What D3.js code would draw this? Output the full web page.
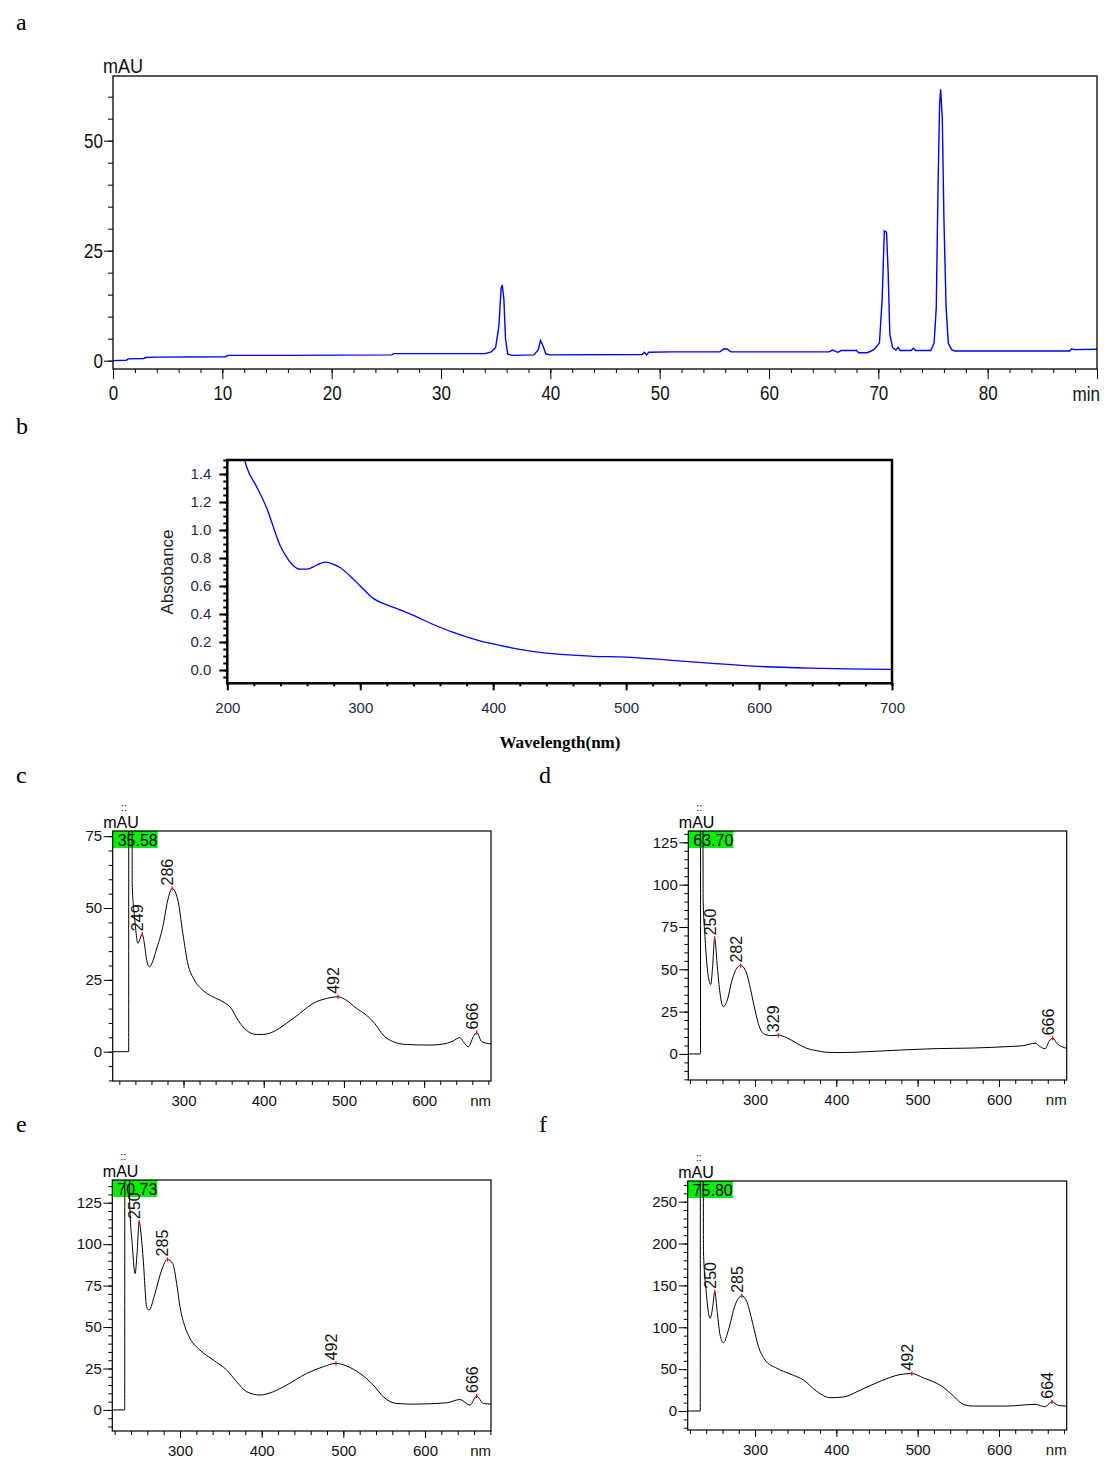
<!DOCTYPE html>
<html><head><meta charset="utf-8">
<script src="https://cdn.jsdelivr.net/npm/d3@7"></script>
<style>body{margin:0;background:#fff}</style>
</head><body><svg id="fig" width="1108" height="1465"></svg>
<script>
// ---------- DATA ----------
// a: HPLC chromatogram (time in min, signal in mAU)
const chromTime = [0,1.2,1.4,2.8,3.0,4.0,10.3,10.5,15.6,25.5,25.7,34.0,34.6,35.0,35.3,35.5,35.6,35.75,35.9,36.1,36.5,38.5,38.9,39.1,39.3,39.6,40.0,48.4,48.6,48.8,49.0,51.0,55.5,55.9,56.2,56.5,65.5,65.8,66.3,66.6,68.0,68.2,69.0,69.6,70.1,70.35,70.55,70.75,70.9,71.05,71.3,71.6,71.8,72.0,73.0,73.2,73.4,74.8,75.1,75.3,75.45,75.6,75.7,75.85,76.0,76.2,76.4,76.7,77.0,87.5,87.7,87.9,90.0];
const chromMAU  = [0,0.1,0.4,0.5,0.7,0.8,0.9,1.2,1.2,1.3,1.6,1.6,2.0,3.0,8.0,16.5,17.2,14.0,5.0,1.5,1.2,1.3,2.5,4.6,3.5,1.5,1.3,1.4,1.9,1.3,1.9,2.0,2.0,2.7,2.6,2.0,2.0,2.4,1.9,2.3,2.3,1.8,1.8,2.5,4.0,14.0,29.5,29.2,20.0,6.0,3.0,2.4,3.0,2.3,2.3,2.8,2.3,2.3,4.0,12.0,38.0,58.0,61.7,55.0,32.0,12.0,4.0,2.5,2.2,2.2,2.7,2.5,2.6];
const chromYTicks = [0,25,50];
const chromXTicks = [0,10,20,30,40,50,60,70,80,90];

// b: UV-Vis absorbance spectrum
const uvWavelength = [211.5,214.6,222,229.7,234.7,239.7,244.7,249.7,254.8,259.8,267.4,273.6,279.9,285,292.5,300,310,320,330,340,355,370,380,390,400,410,420,440,475,500,530,565,600,640,700];
const uvAbsorbance = [1.56,1.45,1.31,1.155,1.02,0.89,0.805,0.745,0.72,0.72,0.75,0.77,0.755,0.73,0.67,0.60,0.51,0.465,0.43,0.39,0.325,0.268,0.236,0.208,0.186,0.166,0.148,0.12,0.098,0.092,0.072,0.048,0.026,0.013,0.005];
const uvYTicks = [0,0.2,0.4,0.6,0.8,1.0,1.2,1.4];
const uvXTicks = [200,300,400,500,600,700];

// c-f: DAD spectra of the peaks (nm, mAU)
const specC_nm  = [211.7,231.6,231.8,235.6,236,238.9,241,243,246,248.4,251,253.4,257.6,261,265.9,274.2,280.4,285.8,292.9,299.1,305.3,313.6,324,336.5,349,359.4,367.8,378.2,390.7,399,411.5,428.1,444.8,461.4,478,492.6,503,515.5,528,538.4,548.8,561.3,578,607,628,636.3,644.6,648.8,655,661.3,665.5,671.7,683.4];
const specC_mAU = [0,0,200,200,58.5,46.9,41,37.7,39.5,40.9,38,33,29.5,31,35.3,43.5,52.8,56.8,52.8,41.2,30.7,24.9,21.4,19.1,17.4,15.1,11,7.5,6,6,6.9,9.8,13.3,16.8,18.5,19.1,17.9,15.1,12.7,9.8,5.8,3.5,2.5,2.3,2.9,3.8,4.9,3.5,1.7,5.2,6.7,3.5,2.7];
const peaksC_nm = [248.4,285.8,492.6,665.5], peaksC_mAU = [40.9,56.8,19.1,6.7], peaksC_text = ["249","286","492","666"];

const specD_nm  = [218,233,233.2,235.8,236.2,238.5,242.6,245.5,247.9,250.4,253.7,257,261.1,266,271.3,277.5,282.4,289,294.7,300,305.4,312.3,320.5,328.7,339,351.3,363.6,375.9,388.2,404.6,441.5,478.4,519.4,568.6,609.6,630.1,644.5,650.6,656.8,662.1,666.2,672,677.3,683.4];
const specD_mAU = [0,0,300,300,92,69.3,45.7,41,51.5,68.3,51.5,35.8,27.9,31.9,42.7,50.6,52.2,48.6,37.8,25.9,16,11.5,10.8,11.1,9.6,6.3,3.3,1.9,0.96,0.8,1.4,2.3,3.1,3.5,4.3,4.9,6.3,4.3,3.1,7.8,9.2,5.9,4.3,3.3];
const peaksD_nm = [250.4,282.4,328.7,666.2], peaksD_mAU = [68.3,52.2,11.1,9.2], peaksD_text = ["250","282","329","666"];

const specE_nm  = [217.1,232.3,232.5,237.8,238.4,241.5,245,247.5,250,252.5,255,259.2,262,269.4,277.5,284.5,291,295.9,300,306.1,312.2,324.5,340.8,357.1,369.4,381.6,397.9,414.2,430.6,455.1,475.5,491,504,520.4,536.7,549,565.3,585.7,626.5,642.8,655,663.2,671.4,682.4];
const specE_mAU = [0,0,300,300,125,100,82.3,95,113.4,105,90.4,62.2,60.2,70.3,84.3,90.8,88.4,76.3,62.2,50.2,43.2,36.1,30.1,24.1,17,11,9,11,15,22,26.1,28.1,26.5,22,15,7.9,3.9,3.5,4.3,6.3,2.9,8.4,3.9,3.5];
const peaksE_nm = [250,284.5,491,663.2], peaksE_mAU = [113.4,90.8,28.1,8.4], peaksE_text = ["250","285","492","666"];

const specF_nm  = [217.2,232.6,232.8,236.2,236.6,239.8,244.7,248,250.4,253.7,257,261.1,267.3,275.5,283.7,289.9,298.1,304.2,312.4,326.8,343.2,359.6,376,392.4,408.8,429.3,453.9,478.4,492.8,507.1,529.7,544,556.3,568.6,609.6,644.5,656.8,665,673.2,683.4];
const specF_mAU = [0,0,400,400,190,144.3,110.6,124.5,142.4,116.6,90.7,81.5,96.7,126.5,137.6,130.5,100.6,77,60.9,51,44.2,37,23.4,15.9,16.7,24.9,35.5,43.5,44.7,39.5,29.6,17.9,7.9,5.9,5.9,7.9,5.1,11.1,6.6,5.9];
const peaksF_nm = [250.4,283.7,492.8,665], peaksF_mAU = [142.4,137.6,44.7,11.1], peaksF_text = ["250","285","492","664"];

const specRetention = ["35.58","63.70","70.73","75.80"];
const specXTicks = [300,400,500,600];
const panelLetters = ["a","b","c","d","e","f"];

// ---------- DRAW ----------
const svg = d3.select("#fig");
svg.append("rect").attr("width",1108).attr("height",1465).attr("fill","#fff");
const SANS = "'Liberation Sans',Arial,sans-serif";
const SERIF = "'Liberation Serif','Times New Roman',serif";

function styleAxis(g, font, size, color){
  g.select(".domain").remove();
  g.selectAll("line").attr("stroke","#000");
  g.selectAll("text").attr("font-family",font).attr("font-size",size).attr("fill",color||"#000");
}
// condense text horizontally (chromatography software uses a narrow font)
function condense(sel, f){
  sel.each(function(){
    const w = this.getComputedTextLength();
    if (w > 0) d3.select(this).attr("textLength", w*f).attr("lengthAdjust","spacingAndGlyphs");
  });
}

// panel letters
const letterPos = [[16,30],[16,434],[16,783],[539,783],[16,1132],[539,1132]];
panelLetters.forEach((t,i)=>svg.append("text").attr("x",letterPos[i][0]).attr("y",letterPos[i][1])
  .attr("font-family",SERIF).attr("font-size",24).text(t));

// ===== Panel a =====
{
  const x = d3.scaleLinear().domain([0,90]).range([113,1097]);
  const y = d3.scaleLinear().domain([-1.9,64.7]).range([369,76]);
  const g = svg.append("g");
  g.append("g").attr("transform","translate(113,0)")
    .call(d3.axisLeft(y).tickValues(d3.range(0,61,5)).tickSize(5).tickFormat(""))
    .call(s=>styleAxis(s,SANS,20));
  g.append("g").attr("transform","translate(113,0)")
    .call(d3.axisLeft(y).tickValues(chromYTicks).tickSize(9).tickPadding(1).tickFormat(d3.format("d")))
    .call(s=>{styleAxis(s,SANS,20,"#111"); condense(s.selectAll("text"),0.85);});
  g.append("g").attr("transform","translate(0,369)")
    .call(d3.axisBottom(x).tickValues(d3.range(0,91,2)).tickSize(4).tickFormat(""))
    .call(s=>styleAxis(s,SANS,20));
  g.append("g").attr("transform","translate(0,369)")
    .call(d3.axisBottom(x).tickValues(chromXTicks).tickSize(10).tickPadding(7).tickFormat(d=>d===90?"":d))
    .call(s=>{styleAxis(s,SANS,20,"#111"); condense(s.selectAll("text"),0.85);});
  g.append("text").attr("x",1100).attr("y",401).attr("text-anchor","end")
    .attr("font-family",SANS).attr("font-size",20).attr("fill","#111").text("min")
    .call(s=>condense(s,0.85));
  g.append("text").attr("x",103).attr("y",73)
    .attr("font-family",SANS).attr("font-size",20).attr("fill","#111").text("mAU")
    .call(s=>condense(s,0.9));
  const line = d3.line().x((d,i)=>x(chromTime[i])).y((d,i)=>y(chromMAU[i]));
  g.append("path").datum(chromMAU).attr("d",line).attr("fill","none")
    .attr("stroke","#0000ff").attr("stroke-width",1.4);
  g.append("rect").attr("x",113).attr("y",76).attr("width",984).attr("height",293)
    .attr("fill","none").attr("stroke","#000").attr("stroke-width",1.3);
}

// ===== Panel b =====
{
  const L=227.3,R=892,T=460,B=683.3;
  const x = d3.scaleLinear().domain([200,700]).range([L,R]);
  const y = d3.scaleLinear().domain([-0.095,1.5]).range([B,T]);
  const g = svg.append("g");
  const lab = "#1f2a4a";
  g.append("g").attr("transform",`translate(${L},0)`)
    .call(d3.axisLeft(y).tickValues(d3.range(-1,31).map(v=>v*0.05)).tickSize(4).tickFormat(""))
    .call(s=>{styleAxis(s,SANS,15); s.selectAll("line").attr("stroke-width",2);});
  g.append("g").attr("transform",`translate(${L},0)`)
    .call(d3.axisLeft(y).tickValues(uvYTicks).tickSize(8).tickPadding(8).tickFormat(d3.format(".1f")))
    .call(s=>{styleAxis(s,SANS,15,lab); s.selectAll("line").attr("stroke-width",2);});
  g.append("g").attr("transform",`translate(0,${B})`)
    .call(d3.axisBottom(x).tickValues(d3.range(200,701,20)).tickSize(3).tickFormat(""))
    .call(s=>{styleAxis(s,SANS,15); s.selectAll("line").attr("stroke-width",2);});
  g.append("g").attr("transform",`translate(0,${B})`)
    .call(d3.axisBottom(x).tickValues(uvXTicks).tickSize(7).tickPadding(12).tickFormat(d3.format("d")))
    .call(s=>{styleAxis(s,SANS,15,lab); s.selectAll("line").attr("stroke-width",2);});
  svg.append("clipPath").attr("id","clipb").append("rect").attr("x",L).attr("y",T).attr("width",R-L).attr("height",B-T);
  const line = d3.line().curve(d3.curveMonotoneX).x((d,i)=>x(uvWavelength[i])).y((d,i)=>y(uvAbsorbance[i]));
  g.append("path").datum(uvAbsorbance).attr("d",line).attr("fill","none").attr("clip-path","url(#clipb)")
    .attr("stroke","#0000ff").attr("stroke-width",1.3);
  g.append("rect").attr("x",L).attr("y",T).attr("width",R-L).attr("height",B-T)
    .attr("fill","none").attr("stroke","#000").attr("stroke-width",2.5);
  g.append("text").attr("transform",`translate(173,572) rotate(-90)`).attr("text-anchor","middle")
    .attr("font-family",SANS).attr("font-size",17).attr("fill","#222").text("Absobance");
  g.append("text").attr("x",560).attr("y",748).attr("text-anchor","middle")
    .attr("font-family",SERIF).attr("font-weight","bold").attr("font-size",17).text("Wavelength(nm)");
}

// ===== Panels c-f =====
const specPanels = [
  {nm:specC_nm, v:specC_mAU, pn:peaksC_nm, pv:peaksC_mAU, pt:peaksC_text, rt:specRetention[0],
   l:112.7,r:491,t:831,b:1081, xd:[211.7,683.3], yd:[-10.2,76.8], major:25, minor:5, ymax:75, mmin:-10, mmax:75},
  {nm:specD_nm, v:specD_mAU, pn:peaksD_nm, pv:peaksD_mAU, pt:peaksD_text, rt:specRetention[1],
   l:688.3,r:1066.7,t:831,b:1080, xd:[218,683.3], yd:[-15.4,131.7], major:25, minor:5, ymax:125, mmin:-15, mmax:130},
  {nm:specE_nm, v:specE_mAU, pn:peaksE_nm, pv:peaksE_mAU, pt:peaksE_text, rt:specRetention[2],
   l:112.3,r:491,t:1180,b:1431, xd:[217.1,680.8], yd:[-12.7,138.7], major:25, minor:5, ymax:125, mmin:-10, mmax:135},
  {nm:specF_nm, v:specF_mAU, pn:peaksF_nm, pv:peaksF_mAU, pt:peaksF_text, rt:specRetention[3],
   l:687.7,r:1066.7,t:1181,b:1430, xd:[217.2,683.3], yd:[-22.7,274.7], major:50, minor:10, ymax:250, mmin:-20, mmax:270}
];
specPanels.forEach((p,k)=>{
  const x = d3.scaleLinear().domain(p.xd).range([p.l,p.r]);
  const y = d3.scaleLinear().domain(p.yd).range([p.b,p.t]);
  const g = svg.append("g");
  g.append("g").attr("transform",`translate(${p.l},0)`)
    .call(d3.axisLeft(y).tickValues(d3.range(p.mmin,p.mmax+0.1,p.minor)).tickSize(4).tickFormat(""))
    .call(s=>styleAxis(s,SANS,15));
  g.append("g").attr("transform",`translate(${p.l},0)`)
    .call(d3.axisLeft(y).tickValues(d3.range(0,p.ymax+0.1,p.major)).tickSize(9).tickPadding(1.5).tickFormat(d3.format("d")))
    .call(s=>styleAxis(s,SANS,15,"#111"));
  g.append("g").attr("transform",`translate(0,${p.b})`)
    .call(d3.axisBottom(x).tickValues(d3.range(220,681,20)).tickSize(4).tickFormat(""))
    .call(s=>styleAxis(s,SANS,15));
  g.append("g").attr("transform",`translate(0,${p.b})`)
    .call(d3.axisBottom(x).tickValues(specXTicks).tickSize(7).tickPadding(7).tickFormat(d3.format("d")))
    .call(s=>styleAxis(s,SANS,15,"#111"));
  g.append("text").attr("x",p.r).attr("y",p.b+25).attr("text-anchor","end")
    .attr("font-family",SANS).attr("font-size",15).attr("fill","#111").text("nm");
  // green retention-time box
  g.append("rect").attr("x",p.l).attr("y",p.t).attr("width",45).attr("height",17).attr("fill","#00f000");
  g.append("text").attr("x",p.l+5).attr("y",p.t+14.5).attr("font-family",SANS).attr("font-size",16).text(p.rt);
  g.append("text").attr("x",p.l-9.5).attr("y",p.t-3.5).attr("font-family",SANS).attr("font-size",16).text("mAU");
  g.append("text").attr("x",p.l+8).attr("y",p.t-20).attr("font-family",SANS).attr("font-size",11).text("::");
  const cid = "clipsp"+k;
  svg.append("clipPath").attr("id",cid).append("rect").attr("x",p.l).attr("y",p.t).attr("width",p.r-p.l).attr("height",p.b-p.t);
  const line = d3.line().curve(d3.curveMonotoneX).x((d,i)=>x(p.nm[i])).y((d,i)=>y(p.v[i]));
  g.append("path").datum(p.v).attr("d",line).attr("fill","none").attr("clip-path",`url(#${cid})`)
    .attr("stroke","#000").attr("stroke-width",1);
  // peak markers and labels
  p.pn.forEach((n,i)=>{
    const px=x(n), py=y(p.pv[i]);
    g.append("line").attr("x1",px).attr("x2",px).attr("y1",py-2).attr("y2",py+2).attr("stroke","#ff0000").attr("stroke-width",1.3);
    g.append("text").attr("transform",`translate(${px+1},${py-3}) rotate(-90)`)
      .attr("font-family",SANS).attr("font-size",16).attr("fill","#111").text(p.pt[i]);
  });
  g.append("rect").attr("x",p.l).attr("y",p.t).attr("width",p.r-p.l).attr("height",p.b-p.t)
    .attr("fill","none").attr("stroke","#000").attr("stroke-width",1.2);
});
</script>
</body></html>
